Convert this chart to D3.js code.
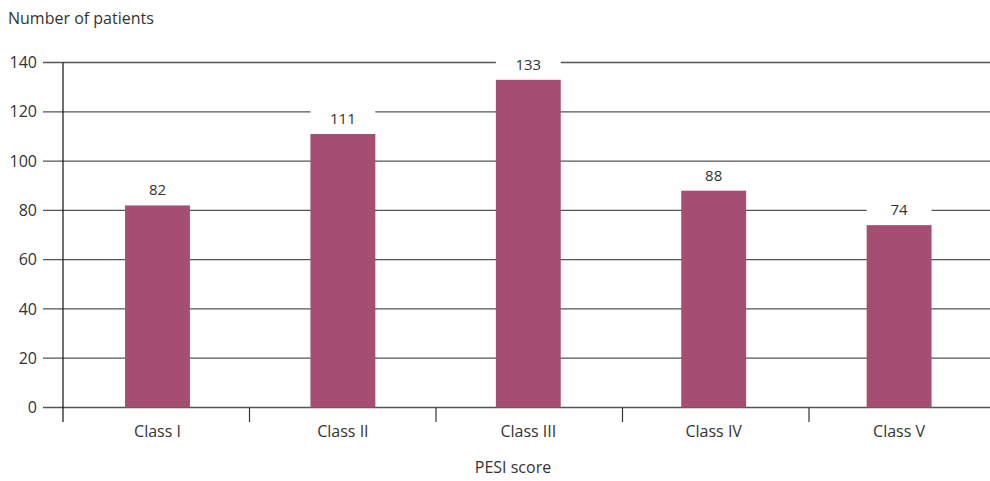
<!DOCTYPE html>
<html><head><meta charset="utf-8">
<script src="https://cdn.jsdelivr.net/npm/d3@7"></script>
<style>body{margin:0;background:#fff}svg{display:block}text{font-family:"Open Sans","Noto Sans",sans-serif;fill:#333}</style>
</head><body>
<svg id="c" width="990" height="481"></svg>
<script>
const categories = ["Class I","Class II","Class III","Class IV","Class V"];
const values = [82,111,133,88,74];
const yTicks = [0,20,40,60,80,100,120,140];
const yTitle = "Number of patients";
const xTitle = "PESI score";

(function(){
const svg = d3.select("#c");
const mL = 63, mR = 995.5, mT = 62.5, mB = 407.5;
const x = d3.scaleBand().domain(categories).range([64.8, 991.8]).paddingInner(0.65).paddingOuter(0.325);
const xb = d3.scaleBand().domain(categories).range([mL, mR]);
const y = d3.scaleLinear().domain([0,140]).range([mB, mT]);

svg.append("g").selectAll("line").data(yTicks).join("line")
  .attr("x1", 43).attr("x2", 990).attr("y1", d=>y(d)).attr("y2", d=>y(d))
  .attr("stroke", "#555").attr("stroke-width", 1.3);

svg.append("g").selectAll("text").data(yTicks).join("text")
  .attr("x", 37).attr("y", d=>y(d)).attr("dy","0.35em").attr("text-anchor","end")
  .attr("font-size", 16).text(d=>d);

svg.append("line").attr("x1", mL).attr("x2", mL).attr("y1", mT).attr("y2", 422)
  .attr("stroke","#111").attr("stroke-width",1.2);

svg.append("g").selectAll("line").data(categories.slice(1)).join("line")
  .attr("x1", d=>xb(d)).attr("x2", d=>xb(d)).attr("y1", mB).attr("y2", 422)
  .attr("stroke","#333").attr("stroke-width",1.2);

svg.append("g").selectAll("rect").data(values).join("rect")
  .attr("x",(d,i)=>x(categories[i])).attr("width", x.bandwidth())
  .attr("y", d=>y(d)).attr("height", d=>mB - y(d))
  .attr("fill","#a64d73");

svg.append("g").selectAll("rect").data(values).join("rect")
  .attr("x",(d,i)=>x(categories[i])).attr("width", x.bandwidth())
  .attr("y", d=>y(d)-24).attr("height", 23.5).attr("fill","#fff");

svg.append("g").selectAll("text").data(values).join("text")
  .attr("x",(d,i)=>x(categories[i])+x.bandwidth()/2).attr("y", d=>y(d)-10)
  .attr("text-anchor","middle").attr("font-size",15).text(d=>d);

svg.append("g").selectAll("text").data(categories).join("text")
  .attr("x", d=>x(d)+x.bandwidth()/2).attr("y", 437)
  .attr("text-anchor","middle").attr("font-size",16).text(d=>d);

svg.append("text").attr("x", 8).attr("y", 24).attr("font-size",16).text(yTitle);
svg.append("text").attr("x", 513).attr("y", 473).attr("text-anchor","middle").attr("font-size",16).text(xTitle);
})();
</script>
</body></html>
